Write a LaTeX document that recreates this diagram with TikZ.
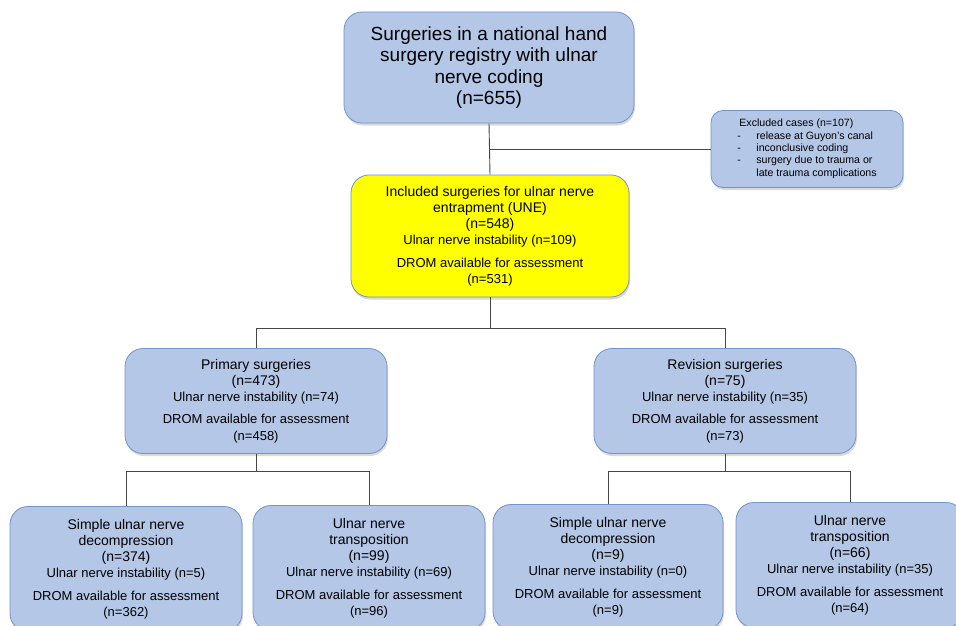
\documentclass[tikz,border=0pt]{standalone}
\usepackage{fontspec}
\setmainfont{Liberation Sans}
\usetikzlibrary{positioning,shadows,calc}
\definecolor{BoxBlue}{RGB}{180,199,231}
\definecolor{EdgeBlue}{RGB}{114,147,203}
\definecolor{HiYellow}{RGB}{255,255,0}
\definecolor{LinkGray}{RGB}{70,70,70}
\newcommand{\boxhead}{\fontsize{14}{16.2}\selectfont}
\newcommand{\boxbody}{\fontsize{13}{16.2}\selectfont}
\tikzset{
  bbox/.style={draw=EdgeBlue,fill=BoxBlue,rounded corners=18pt,
               align=center,line width=0.8pt,inner sep=2pt,
               drop shadow={opacity=0.3,shadow xshift=1pt,shadow yshift=-2.5pt}},
  ybox/.style={bbox,fill=HiYellow},
  link/.style={draw=LinkGray,line width=0.9pt},
}

\begin{document}
\begin{tikzpicture}[
  x=1pt, y=-1pt,
  big/.style={font=\fontsize{19}{21.3}\selectfont},
  mid/.style={font=\boxhead},
  small/.style={font=\fontsize{10.6}{12.4}\selectfont, rounded corners=12pt}
]
\clip (0,0) rectangle (956,626);
\node[bbox, big, minimum width=290pt, minimum height=111pt] (top) at (489,67.5)
  {Surgeries in a national hand\\ surgery registry with ulnar\\ nerve coding\\ (n=655)};
\node[bbox, small, minimum width=192pt, minimum height=77pt] (excl) at (807,149)
  {\begin{tabular}{@{}l@{\hspace{15.5pt}}l@{}}
   \multicolumn{2}{@{}l@{}}{\hspace{2pt}Excluded cases (n=107)}\\
   - & release at Guyon's canal\\
   - & inconclusive coding\\
   - & surgery due to trauma or\\
     & late trauma complications
   \end{tabular}};
\node[ybox, mid, minimum width=278pt, minimum height=122pt] (incl) at (490,236)
  {Included surgeries for ulnar nerve\\ entrapment (UNE)\\ (n=548)\\
   \boxbody Ulnar nerve instability (n=109)\\[6pt]
   \boxbody DROM available for assessment\\ \boxbody (n=531)};
\node[bbox, mid, minimum width=262pt, minimum height=105pt] (prim) at (256,401)
  {Primary surgeries\\ (n=473)\\ \boxbody Ulnar nerve instability (n=74)\\[6pt]
   \boxbody DROM available for assessment\\ \boxbody (n=458)};
\node[bbox, mid, minimum width=262pt, minimum height=105pt] (rev) at (725,401)
  {Revision surgeries\\ (n=75)\\ \boxbody Ulnar nerve instability (n=35)\\[6pt]
   \boxbody DROM available for assessment\\ \boxbody (n=73)};
\node[bbox, mid, minimum width=232pt, minimum height=125pt] (simpA) at (126,569)
  {Simple ulnar nerve\\ decompression\\ (n=374)\\ \boxbody Ulnar nerve instability (n=5)\\[6pt]
   \boxbody DROM available for assessment\\ \boxbody (n=362)};
\node[bbox, mid, minimum width=232pt, minimum height=125pt] (transA) at (369,568)
  {Ulnar nerve\\ transposition\\ (n=99)\\ \boxbody Ulnar nerve instability (n=69)\\[6pt]
   \boxbody DROM available for assessment\\ \boxbody (n=96)};
\node[bbox, mid, minimum width=230pt, minimum height=125pt] (simpB) at (608,567)
  {Simple ulnar nerve\\ decompression\\ (n=9)\\ \boxbody Ulnar nerve instability (n=0)\\[6pt]
   \boxbody DROM available for assessment\\ \boxbody (n=9)};
\node[bbox, mid, minimum width=228pt, minimum height=125pt] (transB) at (850,565)
  {Ulnar nerve\\ transposition\\ (n=66)\\ \boxbody Ulnar nerve instability (n=35)\\[6pt]
   \boxbody DROM available for assessment\\ \boxbody (n=64)};

\coordinate (bx) at (top.south |- excl.west);
\draw[link] (top.south)--(incl.north);
\draw[link] (bx)--(excl.west);
\draw[link] (incl.south)--++(0,31) -| (prim.north);
\draw[link] (incl.south)--++(0,31) -| (rev.north);
\draw[link] (prim.south)--++(0,18) -| (simpA.north);
\draw[link] (prim.south)--++(0,18) -| (transA.north);
\draw[link] (rev.south)--++(0,18) -| (simpB.north);
\draw[link] (rev.south)--++(0,18) -| (transB.north);
\end{tikzpicture}
\end{document}
